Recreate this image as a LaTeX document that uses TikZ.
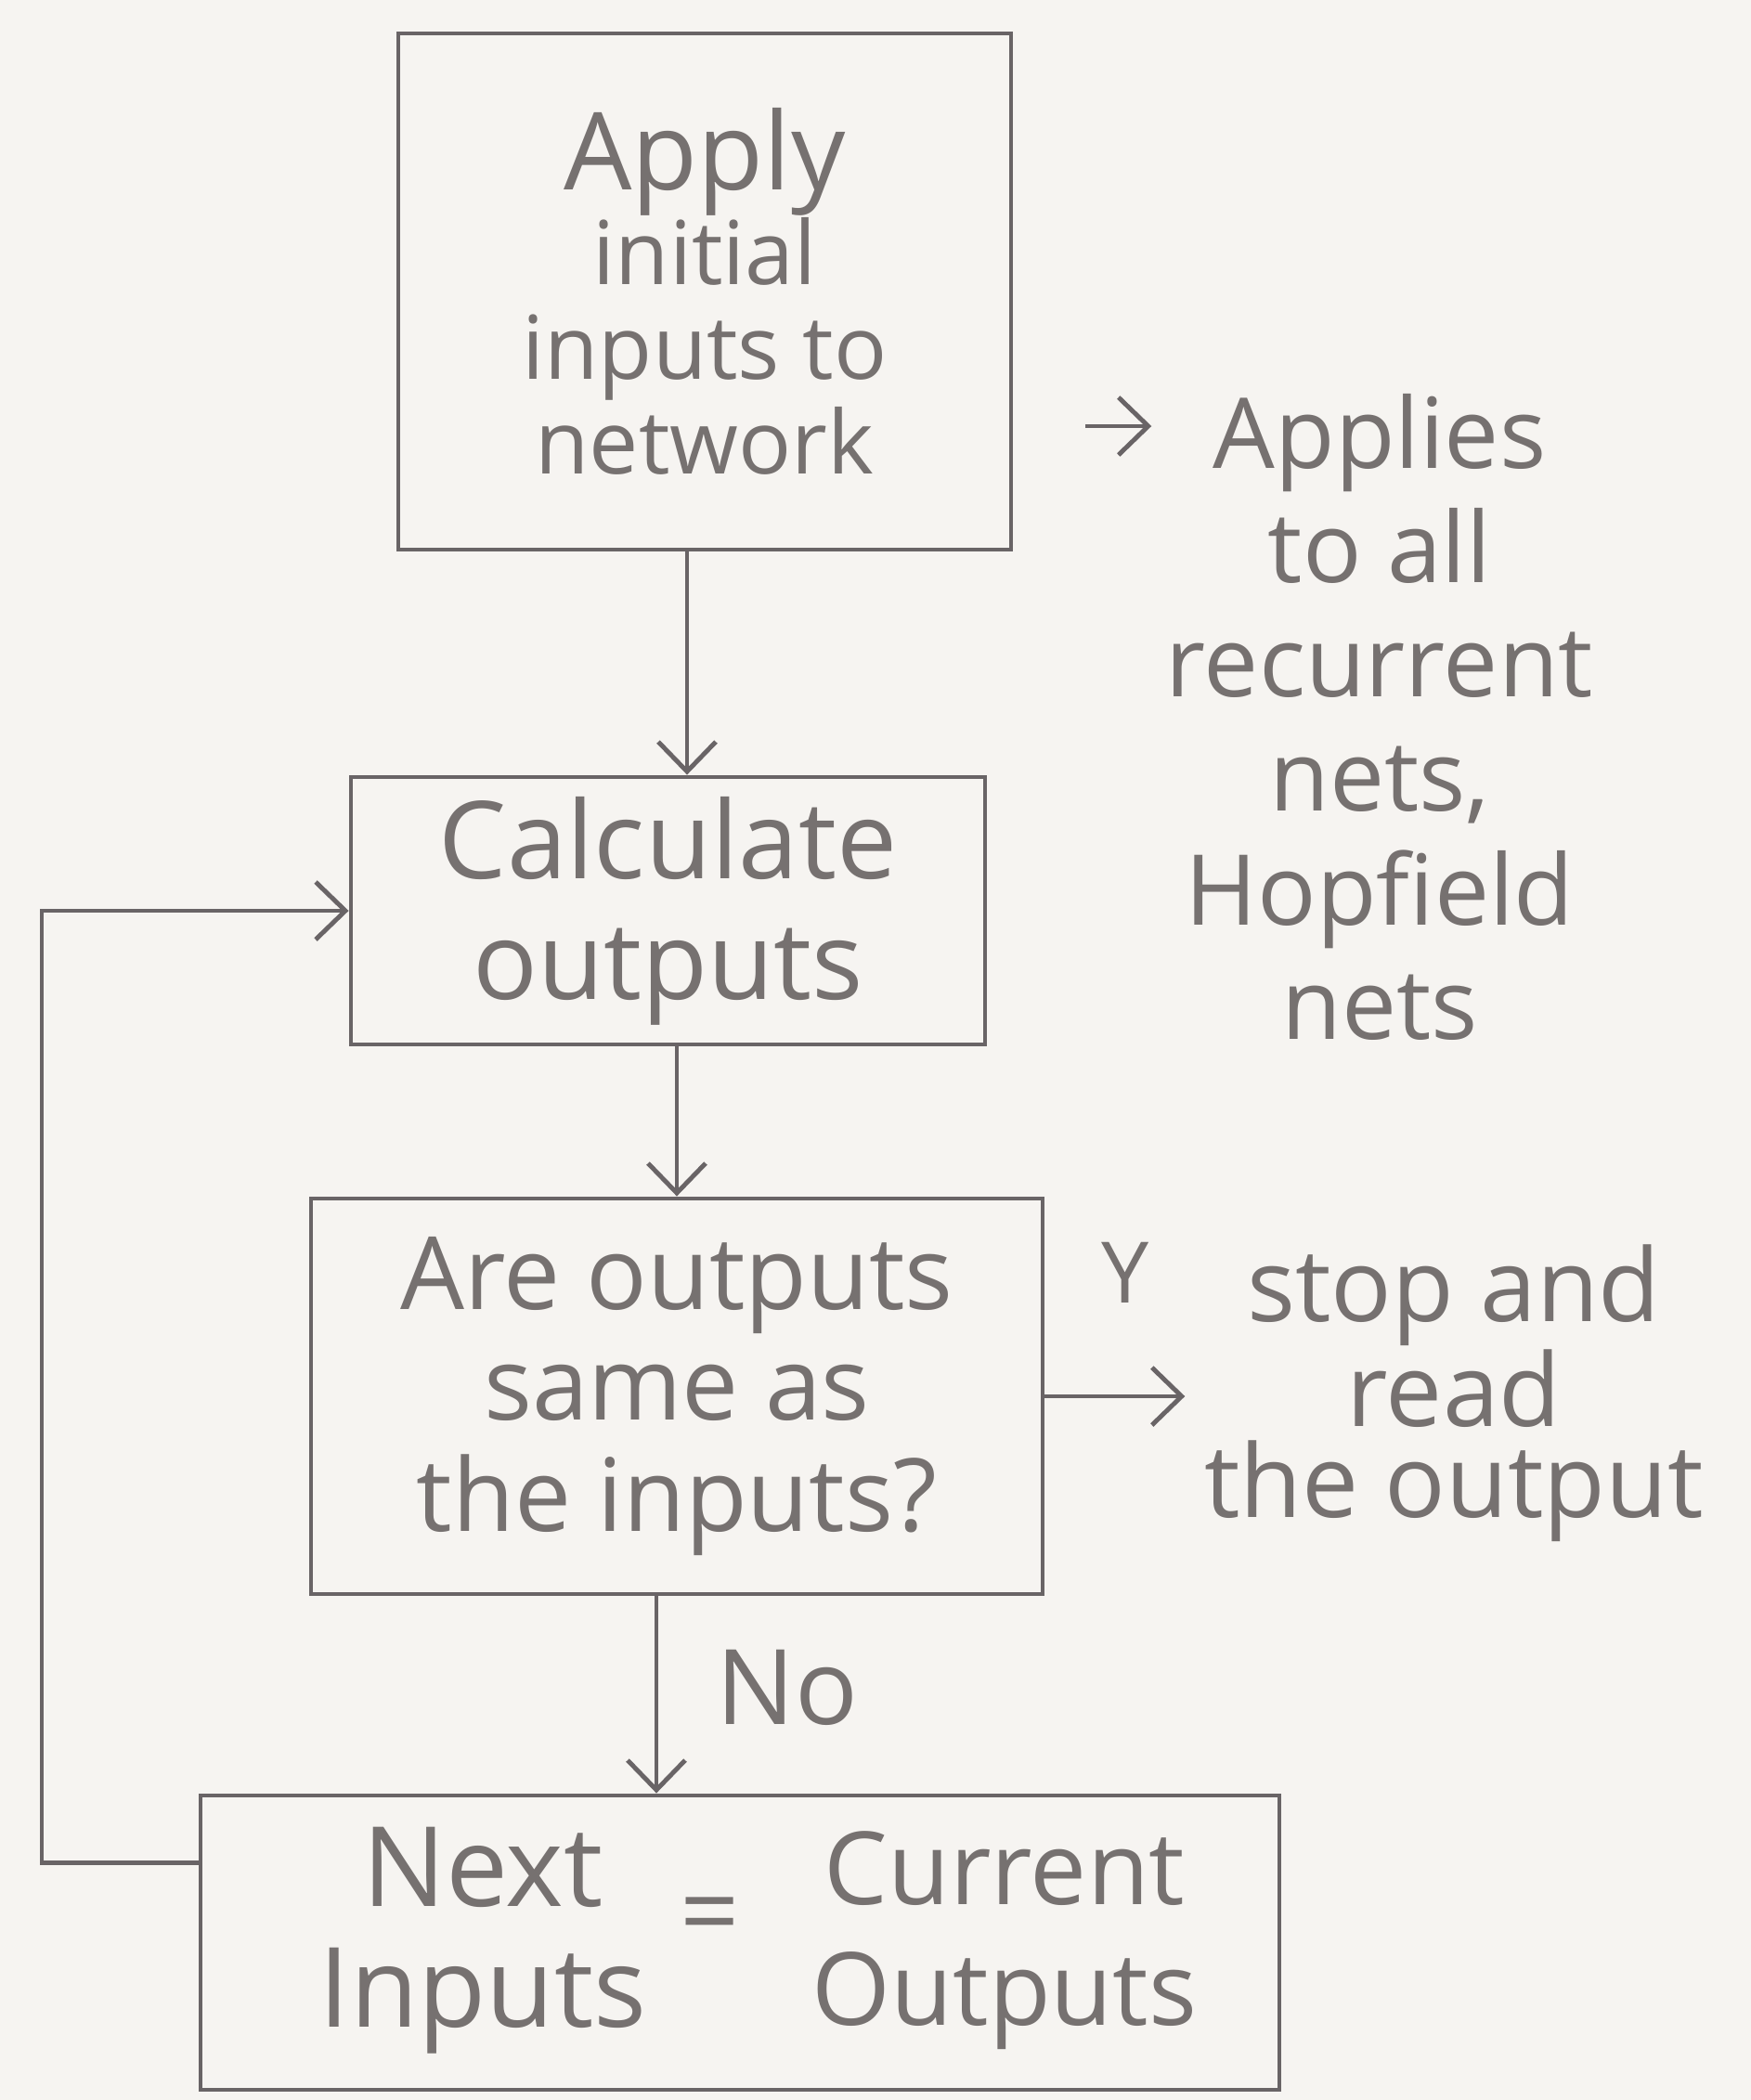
\documentclass[tikz,border=0pt]{standalone}
\usepackage{fontspec}
\setmainfont{Open Sans}
\usetikzlibrary{arrows.meta}
\definecolor{paper}{RGB}{246,244,241}
\definecolor{pencil}{RGB}{105,100,102}
\definecolor{lead}{RGB}{118,113,112}
\tikzset{
  box/.style={draw=pencil, line width=1.4pt, inner sep=0pt, align=center, text=lead},
  arr/.style={draw=pencil, line width=1.4pt, -{Straight Barb[length=0.32cm, width=0.62cm, line width=1.4pt]}},
  note/.style={text=lead, align=center, inner sep=0pt},
}
\begin{document}
\begin{tikzpicture}
\fill[paper] (0,0) rectangle (18.86,-22.62);
\useasboundingbox (0,0) rectangle (18.86,-22.62);

\node[box, minimum width=6.6cm, minimum height=5.56cm, font=\fontsize{27}{29}\selectfont] (b1) at (7.59,-3.14)
  {{\fontsize{33}{36}\selectfont Apply}\\ initial\\ inputs to\\ network};
\node[box, minimum width=6.83cm, minimum height=2.88cm, font=\fontsize{33}{37}\selectfont] (b2) at (7.195,-9.81)
  {Calculate\\ outputs};
\node[box, minimum width=7.88cm, minimum height=4.26cm, font=\fontsize{31}{34}\selectfont] (b3) at (7.29,-15.04)
  {Are outputs\\ same as\\ the inputs?};
\node[box, minimum width=11.62cm, minimum height=3.17cm] (b4) at (7.97,-20.925) {};
\node[note, font=\fontsize{34}{37}\selectfont] (nxt) at (5.2,-20.9) {Next\\ Inputs};
\node[note, font=\fontsize{32}{37}\selectfont] (eq) at (7.65,-20.71) {=};
\node[note, font=\fontsize{31}{37}\selectfont] (cur) at (10.82,-20.9) {Current\\ Outputs};

\node[note, font=\fontsize{30}{35}\selectfont] (side) at (14.86,-7.72)
  {Applies\\ to all\\ recurrent\\ nets,\\ Hopfield\\ nets};
\node[note, font=\fontsize{31}{28}\selectfont] (stop) at (15.66,-15.01)
  {stop and\\ read\\ the output};
\node[note, font=\fontsize{26}{28}\selectfont] (y) at (12.12,-13.71) {Y};
\node[note, font=\fontsize{32}{34}\selectfont] (no) at (8.48,-18.18) {No};

\coordinate (ap) at (11.69,-4.59);
\coordinate (fb) at (0.45,-15);

\draw[arr] (7.4,0 |- b1.south) -- (7.4,0 |- b2.north);
\draw[arr] (7.29,0 |- b2.south) -- (7.29,0 |- b3.north);
\draw[arr] (7.07,0 |- b3.south) -- (7.07,0 |- b4.north);
\draw[arr] (b3.east) -- ([xshift=-0.2cm]b3.east -| stop.west);
\draw[arr] (ap) -- ([xshift=-0.15cm]ap -| side.west);
\draw[arr] ([yshift=0.86cm]b4.west) -| (fb) |- (b2.west);
\end{tikzpicture}
\end{document}
